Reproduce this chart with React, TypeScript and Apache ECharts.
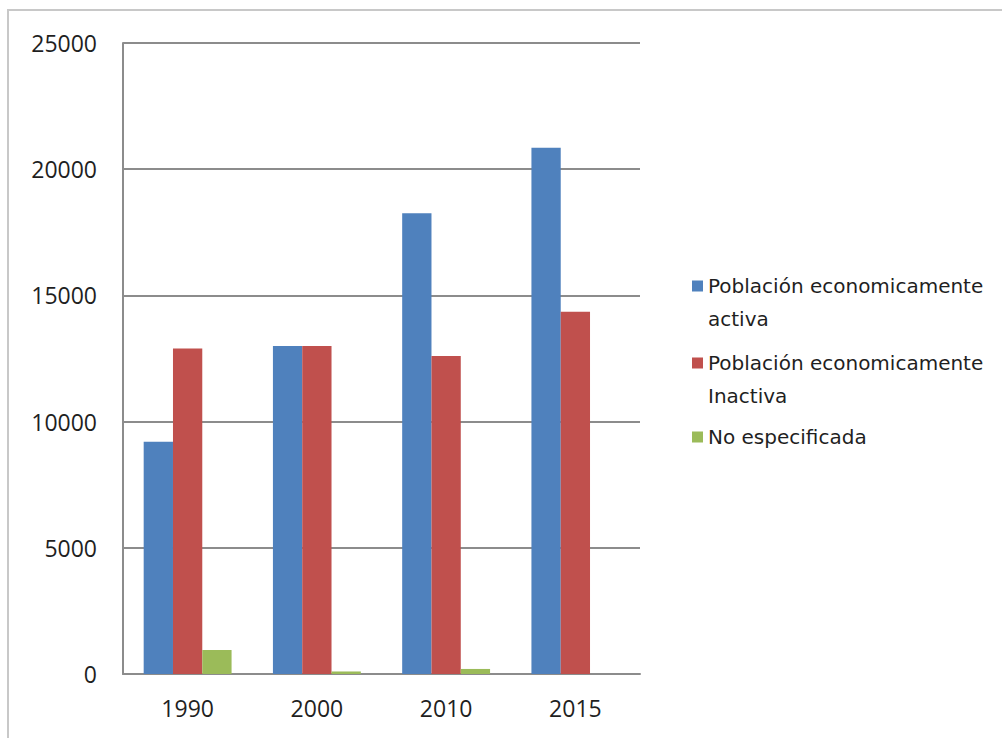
import React, { useEffect, useRef } from "react";
import * as echarts from "echarts";

const categories = ["1990", "2000", "2010", "2015"];
const seriesNames = [
  "Población economicamente activa",
  "Población economicamente Inactiva",
  "No especificada",
];
const legendLabels = [
  "Población economicamente\nactiva",
  "Población economicamente\nInactiva",
  "No especificada",
];
const activa = [9200, 13000, 18250, 20850];
const inactiva = [12900, 13000, 12600, 14350];
const noEspecificada = [950, 100, 200, 0];
const colors = ["#4f81bd", "#c0504d", "#9bbb59"];

export default function App() {
  const ref = useRef<HTMLDivElement>(null);
  useEffect(() => {
    if (!ref.current) return;
    const chart = echarts.init(ref.current, null, { renderer: "svg" });
    const fmt = (name: string) => legendLabels[seriesNames.indexOf(name)];
    const topIcon = "path://M0,0L11,0L11,11L0,11Z M0,44L0.01,44L0.01,44Z";
    const legendBase = {
      orient: "vertical",
      left: 692,
      padding: 0,
      itemWidth: 11,
      formatter: fmt,
      selectedMode: false,
      textStyle: {
        fontFamily: "DejaVu Sans",
        fontSize: 20,
        color: "#1f1f1f",
        lineHeight: 33,
      },
    };
    const values = [activa, inactiva, noEspecificada];
    chart.setOption({
      animation: false,
      backgroundColor: "#ffffff",
      color: colors,
      graphic: [
        {
          type: "rect",
          shape: { x: 8, y: 10, width: 1010, height: 760 },
          style: { fill: "none", stroke: "#c8c8c8", lineWidth: 2 },
          silent: true,
        },
      ],
      legend: [
        {
          ...legendBase,
          top: 269.5,
          itemHeight: 44,
          data: [{ name: seriesNames[0], icon: topIcon }],
        },
        {
          ...legendBase,
          top: 346.5,
          itemHeight: 44,
          data: [{ name: seriesNames[1], icon: topIcon }],
        },
        {
          ...legendBase,
          top: 420.5,
          itemHeight: 11,
          data: [{ name: seriesNames[2], icon: "rect" }],
        },
      ],
      grid: { left: 123, top: 43, right: 362, bottom: 64, containLabel: false },
      xAxis: {
        type: "category",
        data: categories,
        axisLine: { show: true, lineStyle: { color: "#8c8c8c", width: 2 } },
        axisTick: { show: false },
        axisLabel: {
          margin: 22,
          fontFamily: "Open Sans",
          fontSize: 23,
          color: "#1f1f1f",
        },
      },
      yAxis: {
        type: "value",
        min: 0,
        max: 25000,
        interval: 5000,
        axisLine: { show: true, lineStyle: { color: "#8c8c8c", width: 2 } },
        axisTick: { show: false },
        splitLine: { show: true, lineStyle: { color: "#8c8c8c", width: 2 } },
        axisLabel: {
          margin: 26,
          fontFamily: "Open Sans",
          fontSize: 23,
          color: "#1f1f1f",
          formatter: (v: number) => String(v),
        },
      },
      series: seriesNames.map((name, i) => ({
        name,
        type: "bar",
        data: values[i],
        barGap: "0%",
        barCategoryGap: "32%",
        itemStyle: { color: colors[i] },
      })),
    });
    return () => chart.dispose();
  }, []);
  return (
    <div
      ref={ref}
      style={{ position: "absolute", left: 0, top: 0, width: 1002, height: 738 }}
    />
  );
}
